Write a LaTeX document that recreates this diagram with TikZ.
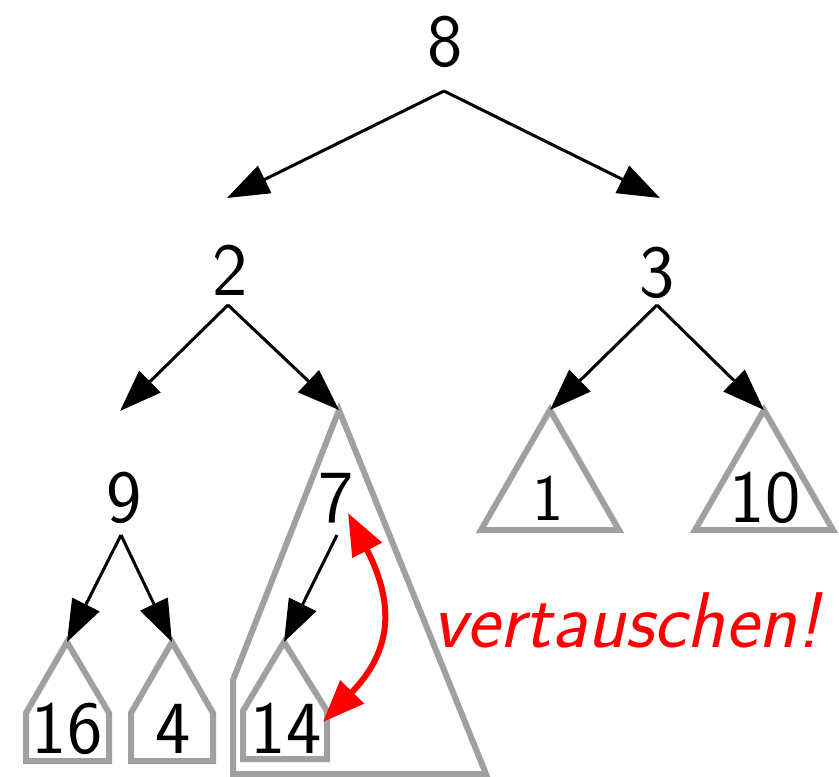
\documentclass[tikz,border=0pt]{standalone}
\usepackage{fontspec}
\usetikzlibrary{arrows.meta}
\begin{document}
\begin{tikzpicture}[x=1pt,y=-1pt,
  lbl/.style={inner sep=0pt,anchor=base,font=\sffamily\fontsize{75}{80}\selectfont},
  small/.style={inner sep=0pt,anchor=base,font=\sffamily\fontsize{66}{70}\selectfont},
  edge/.style={line width=3pt,-{Triangle[length=42pt,width=30pt]}},
  sub/.style={draw={rgb,255:red,160;green,160;blue,160},line width=6pt},
  swap/.style={draw=red,line width=6pt,{Triangle[length=42pt,width=32pt]}-{Triangle[length=42pt,width=32pt]}},
  note/.style={inner sep=0pt,anchor=base west,text=red,font=\sffamily\itshape\fontsize{79}{84}\selectfont}]
\useasboundingbox (0,0) rectangle (839,777);
% labels
\node[lbl] (n8) at (445,66) {8};
\node[lbl] (n2) at (230,295) {2};
\node[lbl] (n3) at (657,297) {3};
\node[lbl] (n9) at (124,522) {9};
\node[lbl] (n7) at (336,522) {7};
\node[small] (n1) at (548,520) {1};
\node[lbl] (n10) at (765,522) {10};
\node[lbl] (n16) at (67,753) {16};
\node[lbl] (n4) at (173,753) {4};
\node[lbl] (n14) at (286,753) {14};
\node[note] (nv) at (432,647) {vertauschen!};
% fork points and targets
\coordinate (f8) at (444,91);
\coordinate (f2) at (228,305);
\coordinate (f3) at (657,305);
\coordinate (f9) at (121,535);
\coordinate (f7) at (337,535);
\coordinate (t2) at (227,198);
\coordinate (t3) at (660,198);
\coordinate (t9) at (120,411);
\coordinate (a7) at (339,410);
\coordinate (a1) at (550,410);
\coordinate (a10) at (764,410);
\coordinate (a16) at (67,642);
\coordinate (a4) at (172,642);
\coordinate (a14) at (284,642);
% subtree shapes
\draw[sub] (a7) -- (233,680) -- (233,774) -- (486,774) -- cycle;
\draw[sub] (a1) -- (481,530) -- (619,530) -- cycle;
\draw[sub] (a10) -- (695,530) -- (833,530) -- cycle;
\draw[sub] (a16) -- (26,713) -- (26,761) -- (109,761) -- (109,713) -- cycle;
\draw[sub] (a4) -- (131,713) -- (131,761) -- (213,761) -- (213,713) -- cycle;
\draw[sub] (a14) -- (243,711) -- (243,759) -- (327,759) -- (327,711) -- cycle;
% tree edges
\draw[edge] (f8) -- (t2);
\draw[edge] (f8) -- (t3);
\draw[edge] (f2) -- (t9);
\draw[edge] (f2) -- (a7);
\draw[edge] (f3) -- (a1);
\draw[edge] (f3) -- (a10);
\draw[edge] (f9) -- (a16);
\draw[edge] (f9) -- (a4);
\draw[edge] (f7) -- (a14);
% swap arrow
\coordinate (s7) at (348,513);
\coordinate (s14) at (323,722);
\draw[swap] (s7) .. controls (398,610) and (388,655) .. (s14);
\end{tikzpicture}
\end{document}
